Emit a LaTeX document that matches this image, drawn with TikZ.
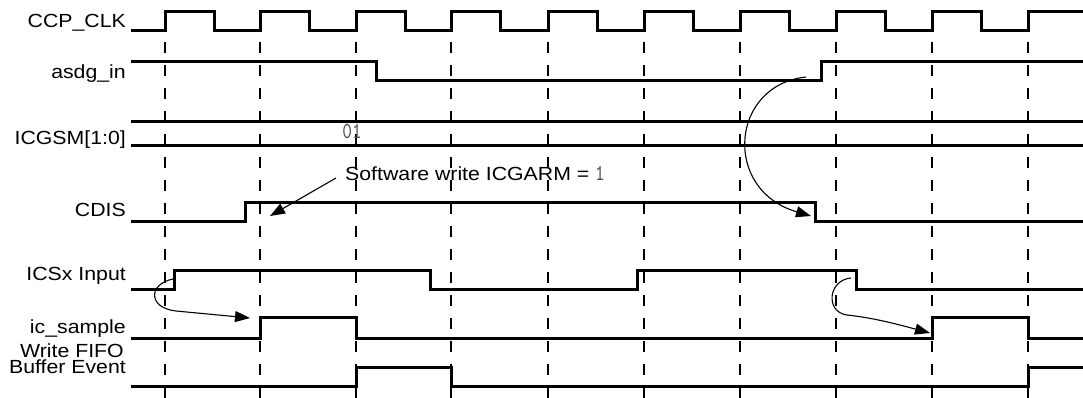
\documentclass[tikz,border=0pt]{standalone}
\usepackage{fontspec}
\setmainfont{Liberation Sans}[FakeStretch=1.12]
\newfontfamily\codefont{lmmono10-regular}[Extension=.otf,FakeStretch=0.8]
\usetikzlibrary{arrows.meta}
\definecolor{codegray}{RGB}{80,80,80}
\tikzset{
  sig/.style={line width=3pt},
  guide/.style={line width=2.6pt,dash pattern=on 11pt off 12pt},
  lbl/.style={inner sep=0pt,anchor=base east,font=\fontsize{19}{15}\selectfont},
  code/.style={font=\codefont\fontsize{23}{23}\selectfont,text=codegray,inner sep=0pt},
  note/.style={line width=1.1pt,-{Triangle[length=15pt,width=11pt]}}
}

\begin{document}
\begin{tikzpicture}[x=1pt,y=-1pt]
  \useasboundingbox (0,0) rectangle (1083,398);
  % sample points of the clock
  \foreach \r in {165,260,356,451,548,644,740,836,932,1028}
    \draw[guide] (\r,42) -- (\r,398);
  % signal names
  \node[lbl] (clk)   at (126,28)  {CCP\_CLK};
  \node[lbl] (asdg)  at (126,79)  {asdg\_in};
  \node[lbl] (icgsm) at (126,145) {ICGSM[1:0]};
  \node[lbl] (cdis)  at (126,216) {CDIS};
  \node[lbl] (icsx)  at (126,280) {ICSx Input};
  \node[lbl] (smp)   at (126,333) {ic\_sample};
  \node[lbl] (fifo1) at (124,357) {Write FIFO};
  \node[lbl] (fifo2) at (126,373) {Buffer Event};
  % waveforms
  \draw[sig] (131,31) foreach \r in {165,260,356,451,548,644,740,836,932}
    {-- (\r,31) -- (\r,12) -- (\r+49,12) -- (\r+49,31)} -- (1028,31) -- (1028,12) -- (1083,12);
  \draw[sig] (131,62) -- (376,62) -- (376,81) -- (821,81) -- (821,62) -- (1083,62);
  \draw[sig] (131,122) -- (1083,122);
  \draw[sig] (131,146) -- (1083,146);
  \node[code,anchor=base] (gsmval) at (352,139) {01};
  \draw[sig] (131,221) -- (245,221) -- (245,202) -- (815,202) -- (815,221) -- (1083,221);
  \draw[sig] (131,289) -- (174,289) -- (174,270) -- (430,270) -- (430,289) -- (637,289)
    -- (637,270) -- (856,270) -- (856,289) -- (1083,289);
  \draw[sig] (131,338) -- (260,338) -- (260,317) -- (356,317) -- (356,338) -- (932,338)
    -- (932,317) -- (1028,317) -- (1028,338) -- (1083,338);
  \draw[sig] (131,386) -- (356,386) -- (356,367) -- (451,367) -- (451,386) -- (1028,386)
    -- (1028,367) -- (1083,367);
  % cause and effect
  \coordinate (asdgRise) at (806,77);
  \coordinate (cdisFall) at (811,216);
  \coordinate (cdisRise) at (270,216);
  \coordinate (icsRise)  at (173,279);
  \coordinate (smpRise)  at (250,318);
  \coordinate (icsFall)  at (851,278);
  \coordinate (smpRise2) at (930,333);
  \node[lbl,anchor=base west] (sw) at (345,181) {Software write ICGARM =};
  \node[code,anchor=base west] (swval) at (595,181) {1};
  \draw[note] ([xshift=-9pt,yshift=3pt]sw.base west) -- (cdisRise);
  \draw[note] (asdgRise) .. controls (730,85) and (722,190) .. (cdisFall);
  \draw[note] (icsRise) .. controls (148,284) and (148,308) .. (176,311) -- (smpRise);
  \draw[note] (icsFall) .. controls (828,280) and (825,312) .. (847,315)
    .. controls (875,318) and (900,325) .. (smpRise2);
\end{tikzpicture}
\end{document}
